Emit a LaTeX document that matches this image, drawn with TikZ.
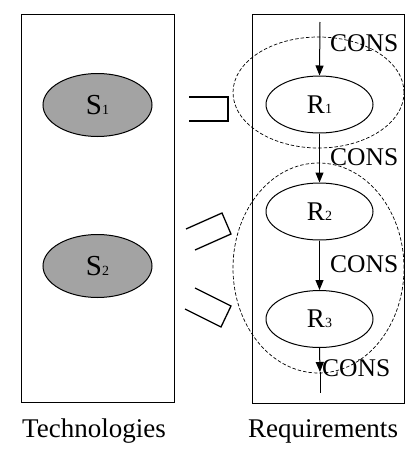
\documentclass[tikz,border=0pt]{standalone}
\usepackage{fontspec}
\setmainfont{Liberation Serif}
\usetikzlibrary{arrows.meta,shapes.geometric}
\tikzset{
  panel/.style={draw, line width=1pt},
  reqnode/.style={draw, ellipse, line width=1pt, minimum width=107pt, minimum height=57pt, inner sep=0pt,
    font=\fontsize{27}{27}\selectfont},
  technode/.style={draw, ellipse, line width=1pt, fill=gray!72, minimum width=109pt, minimum height=63pt, inner sep=0pt,
    font=\fontsize{29}{29}\selectfont},
  scopering/.style={draw, dashed, dash pattern=on 3.5pt off 2pt, line width=0.7pt},
  consarrow/.style={line width=1pt, -{Triangle[length=10pt, width=8pt]}},
  conslabel/.style={anchor=base west, inner sep=0pt, font=\fontsize{25.5}{26}\selectfont},
  link/.style={line width=1.3pt, line join=miter},
  caption/.style={anchor=base, inner sep=0pt, font=\fontsize{27}{28}\selectfont}
}
\newcommand{\lowidx}[1]{{\fontsize{14}{14}\selectfont #1}}
\begin{document}
\begin{tikzpicture}[x=1pt, y=-1pt]
\useasboundingbox (0,0) rectangle (417,450);

% the two panels
\draw[panel] (21,14) rectangle (174,402);
\draw[panel] (252,14) rectangle (404,403);

% technologies
\node[technode] (S1) at (97.5,105) {S\lowidx{1}};
\node[technode] (S2) at (97.5,266) {S\lowidx{2}};

% requirements
\node[reqnode] (R1) at (319.5,104.5) {R\lowidx{1}};
\node[reqnode] (R2) at (319.5,211.5) {R\lowidx{2}};
\node[reqnode] (R3) at (319.5,319) {R\lowidx{3}};

% dashed groupings
\node[scopering, ellipse, minimum width=171pt, minimum height=111pt, inner sep=0pt] (G1) at (318.5,92.5) {};
\node[scopering, ellipse, minimum width=171pt, minimum height=210pt, inner sep=0pt] (G2) at (318.5,268) {};

% CONS chain
\coordinate (top) at (320,22);
\coordinate (tip) at (320,372);
\coordinate (tail) at (320,393);
\draw[consarrow] (top) -- (R1.north);
\draw[consarrow] (R1.south) -- (R2.north);
\draw[consarrow] (R2.south) -- (R3.north);
\draw[consarrow] (R3.south) -- (tip);
\draw[line width=1pt] (tip) -- (tail);

\node[conslabel] (c1) at (330,51) {CONS};
\node[conslabel] (c2) at (330,165) {CONS};
\node[conslabel] (c3) at (330,272) {CONS};
\node[conslabel] (c4) at (322,376) {CONS};

% open bars between the panels
\draw[link] (189,97) -- (228,97) -- (228,121) -- (189,121);
\draw[link] (186,229) -- (222,213) -- (231,234) -- (195,250);
\draw[link] (195,288) -- (231,306) -- (221,327) -- (185,309);

% captions
\node[caption] (tech) at (94,437) {Technologies};
\node[caption] (reqs) at (323,437) {Requirements};
\end{tikzpicture}
\end{document}
